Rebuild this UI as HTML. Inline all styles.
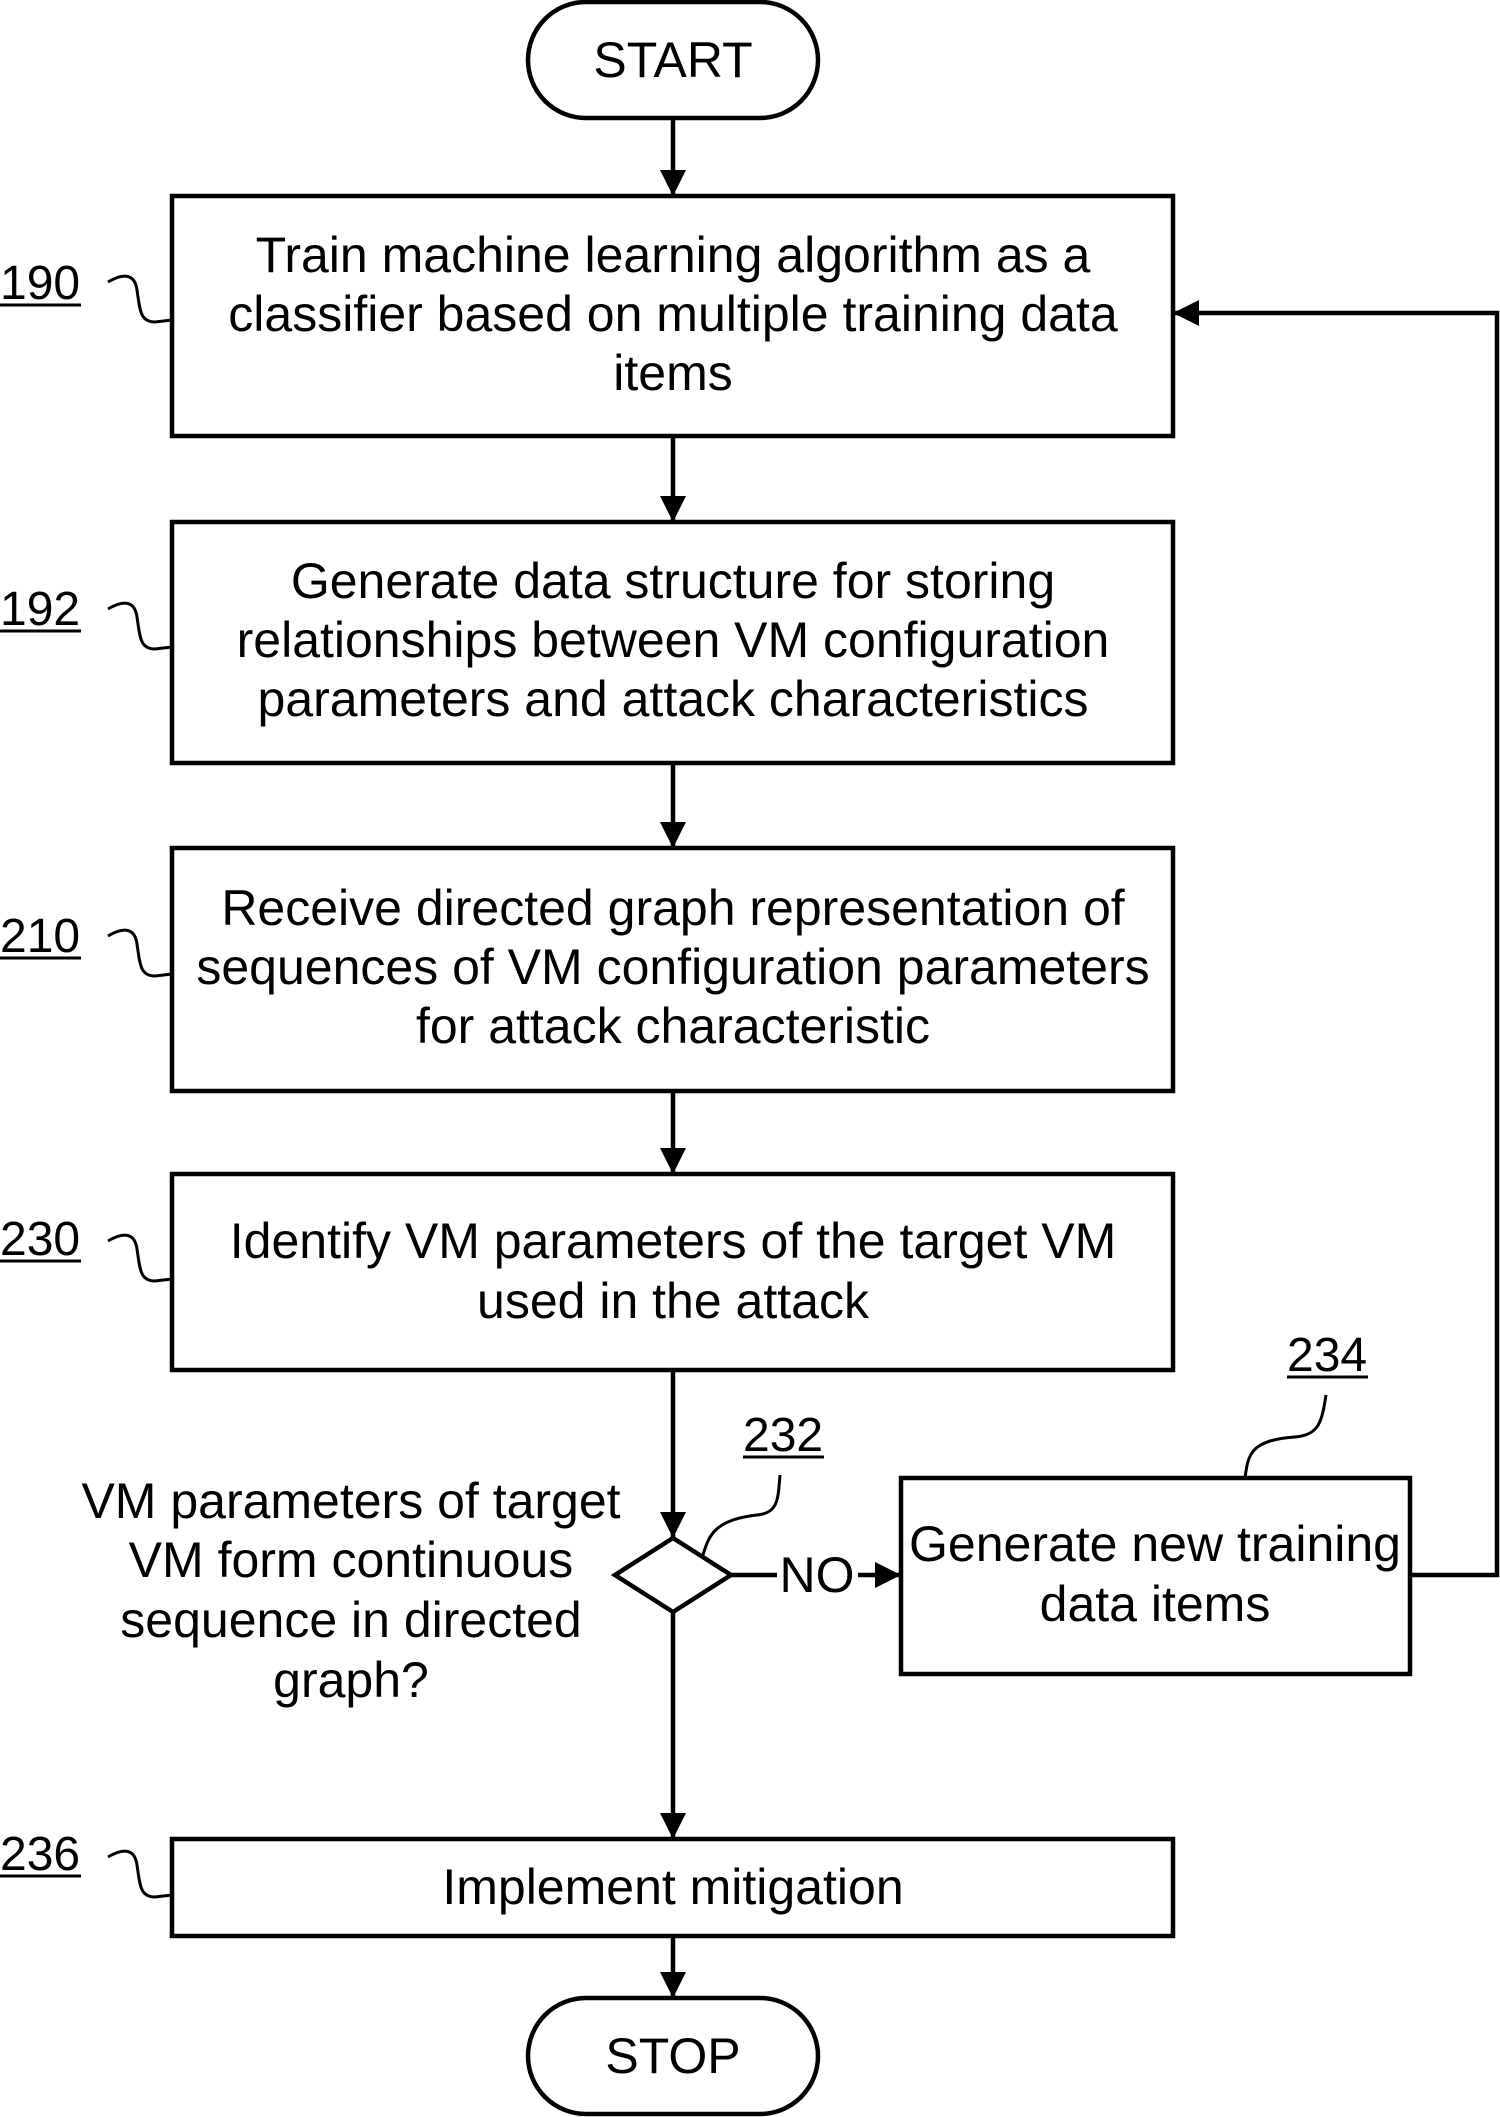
<!DOCTYPE html>
<html><head><meta charset="utf-8"><style>html,body{margin:0;padding:0;background:#fff}svg{display:block}text{font-family:"Liberation Sans",Arial,sans-serif;fill:#000}</style></head>
<body>
<svg width="1500" height="2117" viewBox="0 0 1500 2117" xmlns="http://www.w3.org/2000/svg">
<defs>
<marker id="ah" viewBox="0 0 20 20" refX="20" refY="10" markerWidth="26" markerHeight="28" orient="auto" markerUnits="userSpaceOnUse"><path d="M0,0 L20,10 L0,20 z" fill="#000"/></marker></defs>
<g fill="none" stroke="#000" stroke-width="4.5">
<rect x="528" y="2" width="290" height="116" rx="58"/>
<rect x="528" y="1998" width="290" height="116" rx="58"/>
<rect x="172" y="196" width="1001" height="240"/>
<rect x="172" y="522" width="1001" height="241"/>
<rect x="172" y="848" width="1001" height="243"/>
<rect x="172" y="1174" width="1001" height="196"/>
<rect x="172" y="1839" width="1001" height="97"/>
<rect x="901" y="1478" width="509" height="196"/>
<path d="M673,1538 L731,1575 L673,1612 L615,1575 Z"/>
<path d="M673,119 V196" marker-end="url(#ah)"/>
<path d="M673,436 V522" marker-end="url(#ah)"/>
<path d="M673,763 V848" marker-end="url(#ah)"/>
<path d="M673,1091 V1174" marker-end="url(#ah)"/>
<path d="M673,1370 V1538" marker-end="url(#ah)"/>
<path d="M673,1612 V1839" marker-end="url(#ah)"/>
<path d="M673,1936 V1998" marker-end="url(#ah)"/>
<path d="M731,1575 H777"/>
<path d="M858,1575 H901" marker-end="url(#ah)"/>
<path d="M1410,1575 H1497 V313 H1173" marker-end="url(#ah)"/>
<g stroke-width="3">
<path d="M108,282 C125,272 135,275 137,290 C140,310 140,322 155,322 L172,320"/>
<path d="M108,609 C125,599 135,602 137,617 C140,637 140,649 155,649 L172,647"/>
<path d="M108,936 C125,926 135,929 137,944 C140,964 140,976 155,976 L172,974"/>
<path d="M108,1241 C125,1231 135,1234 137,1249 C140,1269 140,1281 155,1281 L172,1279"/>
<path d="M108,1857 C125,1847 135,1850 137,1865 C140,1885 140,1897 155,1897 L172,1895"/>
<path d="M780,1475 C778,1500 778,1513 757,1515 C710,1520 708,1540 702,1558"/>
<path d="M1326,1395 C1322,1420 1320,1435 1295,1437 C1250,1440 1248,1455 1245,1478"/>
</g>
</g>
<g font-size="50" text-anchor="middle">
<text x="673" y="77">START</text>
<text x="673" y="2073">STOP</text>
<text x="673" y="272">Train machine learning algorithm as a</text>
<text x="673" y="331">classifier based on multiple training data</text>
<text x="673" y="390">items</text>
<text x="673" y="598">Generate data structure for storing</text>
<text x="673" y="657">relationships between VM configuration</text>
<text x="673" y="716">parameters and attack characteristics</text>
<text x="673" y="925">Receive directed graph representation of</text>
<text x="673" y="984">sequences of VM configuration parameters</text>
<text x="673" y="1043">for attack characteristic</text>
<text x="673" y="1258">Identify VM parameters of the target VM</text>
<text x="673" y="1318">used in the attack</text>
<text x="673" y="1904">Implement mitigation</text>
<text x="1155" y="1561">Generate new training</text>
<text x="1155" y="1621">data items</text>
<text x="351" y="1518">VM parameters of target</text>
<text x="351" y="1577">VM form continuous</text>
<text x="351" y="1637">sequence in directed</text>
<text x="351" y="1697">graph?</text>
<text x="817" y="1592">NO</text>
</g>
<g font-size="48">
<text x="0" y="299">190</text>
<text x="0" y="625">192</text>
<text x="0" y="952">210</text>
<text x="0" y="1255">230</text>
<text x="0" y="1870">236</text>
<text x="743" y="1451">232</text>
<text x="1287" y="1371">234</text>
</g>
<g stroke="#000" stroke-width="3">
<line x1="0" y1="305" x2="81" y2="305"/><line x1="0" y1="631" x2="81" y2="631"/><line x1="0" y1="958" x2="81" y2="958"/><line x1="0" y1="1261" x2="81" y2="1261"/><line x1="0" y1="1876" x2="81" y2="1876"/><line x1="743" y1="1457" x2="824" y2="1457"/><line x1="1287" y1="1377" x2="1368" y2="1377"/>
</g>
</svg>
</body></html>
